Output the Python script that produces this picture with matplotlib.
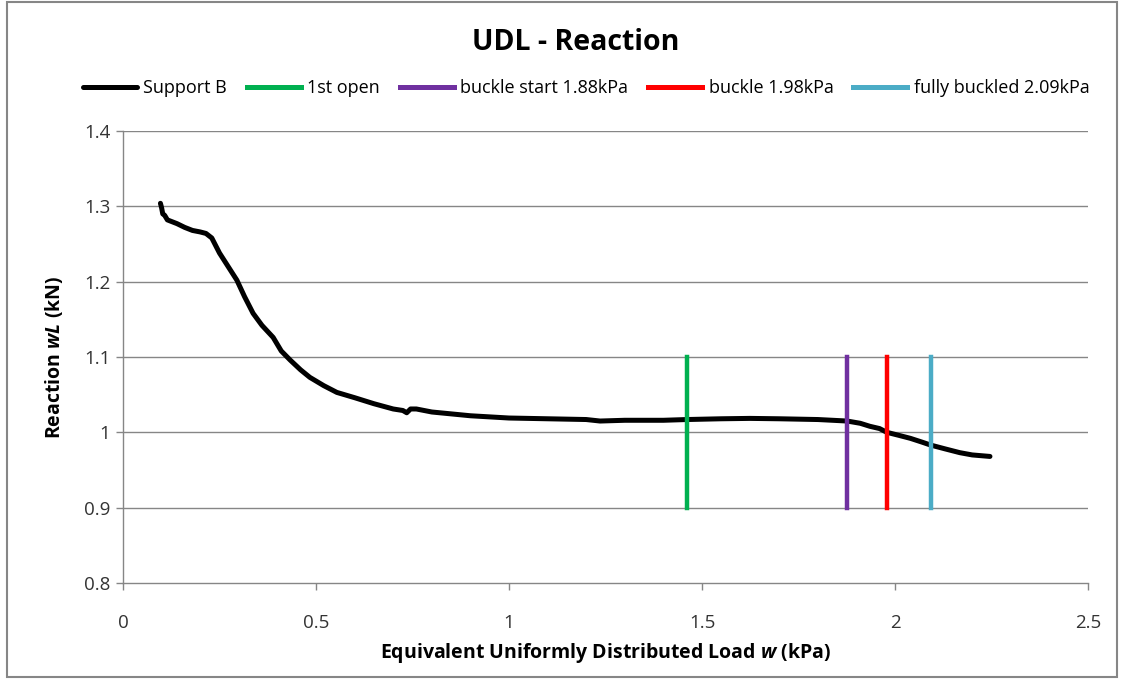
import matplotlib
matplotlib.use("Agg")
import matplotlib.pyplot as plt
from matplotlib.patches import Rectangle

plt.rcParams['font.family'] = ['Open Sans', 'DejaVu Sans']
plt.rcParams['mathtext.fontset'] = 'custom'
plt.rcParams['mathtext.it'] = 'Open Sans:bold:italic'
plt.rcParams['mathtext.rm'] = 'Open Sans:bold'

# Support B reaction vs equivalent UDL
load_kpa = [0.097, 0.100, 0.103, 0.108, 0.115, 0.125, 0.140, 0.160, 0.180, 0.200,
            0.215, 0.230, 0.250, 0.270, 0.295, 0.315, 0.337, 0.360, 0.389, 0.410,
            0.433, 0.460, 0.484, 0.520, 0.554, 0.600, 0.650, 0.700, 0.725, 0.735,
            0.745, 0.760, 0.800, 0.900, 1.000, 1.100, 1.200, 1.236, 1.300, 1.400,
            1.461, 1.550, 1.624, 1.700, 1.800, 1.876, 1.910, 1.935, 1.960, 1.979,
            2.010, 2.040, 2.070, 2.093, 2.130, 2.168, 2.200, 2.246]
reaction_kn = [1.304, 1.298, 1.290, 1.288, 1.282, 1.280, 1.277, 1.272, 1.268, 1.266,
               1.264, 1.258, 1.238, 1.222, 1.202, 1.180, 1.158, 1.142, 1.126, 1.108,
               1.096, 1.083, 1.073, 1.062, 1.053, 1.046, 1.038, 1.031, 1.029, 1.026,
               1.031, 1.031, 1.027, 1.022, 1.019, 1.018, 1.017, 1.015, 1.016, 1.016,
               1.017, 1.018, 1.0185, 1.018, 1.017, 1.015, 1.012, 1.008, 1.005, 1.000,
               0.996, 0.992, 0.987, 0.983, 0.978, 0.973, 0.970, 0.968]

# Event markers: (label, load, colour)
event_labels = ['1st open', 'buckle start 1.88kPa', 'buckle 1.98kPa', 'fully buckled 2.09kPa']
event_loads = [1.461, 1.876, 1.979, 2.093]
event_colors = ['#00b050', '#7030a0', '#ff0000', '#4bacc6']
event_span = (0.9, 1.1)

x_ticks = [0, 0.5, 1, 1.5, 2, 2.5]
x_tick_labels = ['0', '0.5', '1', '1.5', '2', '2.5']
y_ticks = [0.8, 0.9, 1.0, 1.1, 1.2, 1.3, 1.4]
y_tick_labels = ['0.8', '0.9', '1', '1.1', '1.2', '1.3', '1.4']

W, H = 1124, 679
fig = plt.figure(figsize=(W / 100, H / 100), dpi=100)
ax = fig.add_axes([123 / W, 1 - 583 / H, (1088 - 123) / W, (583 - 131) / H])

grid_col = '#868686'
for yv in y_ticks[1:]:
    ax.axhline(yv, color=grid_col, lw=1.0, zorder=1)

ax.plot(load_kpa, reaction_kn, color='black', lw=3.6, solid_capstyle='round',
        solid_joinstyle='round', label='Support B', zorder=3)
for lab, xv, col in zip(event_labels, event_loads, event_colors):
    ax.plot([xv, xv], list(event_span), color=col, lw=3.2, label=lab, zorder=4)

ax.set_xlim(0, 2.5)
ax.set_ylim(0.8, 1.4)
ax.set_xticks(x_ticks)
ax.set_xticklabels(x_tick_labels)
ax.set_yticks(y_ticks)
ax.set_yticklabels(y_tick_labels)
for s in ['top', 'right']:
    ax.spines[s].set_visible(False)
for s in ['left', 'bottom']:
    ax.spines[s].set_color(grid_col)
    ax.spines[s].set_linewidth(1.0)
ax.tick_params(axis='both', direction='out', length=5, width=1, color=grid_col,
               labelsize=13.5, labelcolor='#333333')
ax.tick_params(axis='x', pad=17)
ax.tick_params(axis='y', pad=4)

ax.set_xlabel(r'Equivalent Uniformly Distributed Load $w$ (kPa)', fontsize=14,
              fontweight='bold', labelpad=7)
ax.set_ylabel(r'Reaction $wL$ (kN)', fontsize=14, fontweight='bold', labelpad=14)

fig.text(576 / W, 1 - 43 / H, 'UDL - Reaction', ha='center', va='center',
         fontsize=20.5, fontweight='bold')

leg = fig.legend(loc='center', bbox_to_anchor=(586 / W, 1 - 88 / H), ncol=5,
                 frameon=False, fontsize=13, handlelength=3.0, handletextpad=0.35,
                 columnspacing=1.1)
for line in leg.get_lines():
    line.set_linewidth(3.6)

# Outer chart frame
fig.patches.append(Rectangle((7 / W, 2 / H), (W - 14) / W, (H - 4) / H,
                             transform=fig.transFigure, fill=False,
                             edgecolor='#868686', lw=1.5))

fig.savefig('out.png', dpi=100)
